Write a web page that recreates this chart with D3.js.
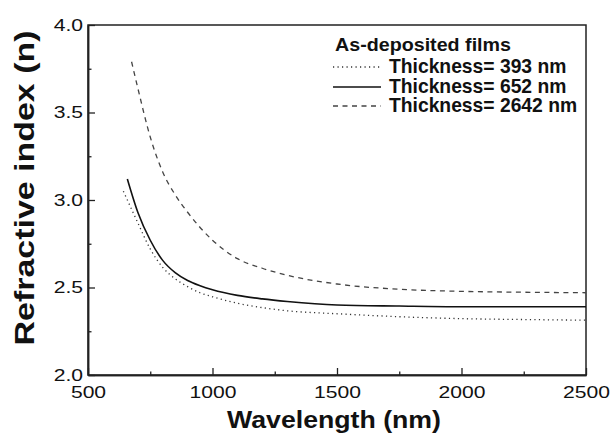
<!DOCTYPE html>
<html><head><meta charset="utf-8">
<script src="https://cdn.jsdelivr.net/npm/d3@7"></script>
<style>
body{margin:0;background:#fff;}
text{font-family:"Liberation Sans",Arial,sans-serif;fill:#111;}
</style></head>
<body><svg id="c" width="613" height="440"></svg>
<script>
// Data
const wl393 = [642, 700, 750, 800, 850, 900, 950, 1000, 1100, 1200, 1300, 1500, 1750, 2000, 2250, 2500];
const n393  = [3.05, 2.87, 2.72, 2.615, 2.55, 2.505, 2.47, 2.447, 2.41, 2.385, 2.367, 2.35, 2.333, 2.322, 2.317, 2.313];
const wl652 = [658, 700, 750, 800, 850, 900, 950, 1000, 1100, 1200, 1300, 1500, 1750, 2000, 2250, 2500];
const n652  = [3.12, 2.93, 2.77, 2.655, 2.585, 2.54, 2.51, 2.487, 2.455, 2.435, 2.42, 2.40, 2.394, 2.39, 2.39, 2.39];
const wl2642 = [675, 700, 750, 800, 850, 900, 1000, 1100, 1200, 1300, 1500, 1750, 2000, 2250, 2500];
const n2642  = [3.79, 3.64, 3.36, 3.16, 3.03, 2.93, 2.77, 2.665, 2.61, 2.57, 2.52, 2.49, 2.478, 2.473, 2.47];
const xTicks = [500, 1000, 1500, 2000, 2500];
const xMinor = [750, 1250, 1750, 2250];
const yTicks = [2.0, 2.5, 3.0, 3.5, 4.0];
const yMinor = [2.25, 2.75, 3.25, 3.75];
const legendTitle = "As-deposited films";
const legendLabels = ["Thickness= 393 nm", "Thickness= 652 nm", "Thickness= 2642 nm"];
const xTitle = "Wavelength (nm)";
const yTitle = "Refractive index (n)";

const svg = d3.select("#c");
const L = 88, R = 586, T = 25, B = 375;
const x = d3.scaleLinear().domain([500, 2500]).range([L, R]);
const y = d3.scaleLinear().domain([2, 4]).range([B, T]);
const axisColor = "#222";

// frame
svg.append("rect").attr("x", L).attr("y", T).attr("width", R - L).attr("height", B - T)
  .attr("fill", "none").attr("stroke", axisColor).attr("stroke-width", 1.5);

// axes
const gx = svg.append("g").attr("transform", `translate(0,${B})`)
  .call(d3.axisBottom(x).tickValues(xTicks).tickFormat(d3.format("d")).tickSizeInner(-7).tickSizeOuter(0).tickPadding(11));
const gxm = svg.append("g").attr("transform", `translate(0,${B})`)
  .call(d3.axisBottom(x).tickValues(xMinor).tickFormat("").tickSizeInner(-3.5).tickSizeOuter(0));
const gy = svg.append("g").attr("transform", `translate(${L},0)`)
  .call(d3.axisLeft(y).tickValues(yTicks).tickFormat(d3.format(".1f")).tickSizeInner(-7).tickSizeOuter(0).tickPadding(5));
const gym = svg.append("g").attr("transform", `translate(${L},0)`)
  .call(d3.axisLeft(y).tickValues(yMinor).tickFormat("").tickSizeInner(-3.5).tickSizeOuter(0));
[gx, gxm, gy, gym].forEach(g => {
  g.select(".domain").attr("stroke", axisColor).attr("stroke-width", 1.5);
  g.selectAll(".tick line").attr("stroke", axisColor).attr("stroke-width", 1.3);
});
gx.selectAll(".tick text").each(function(){
  const t = d3.select(this); const yy = +t.attr("y");
  t.attr("y", 0).attr("transform", `translate(0,${yy}) scale(1.28,1)`);
}).style("font-size", "16.5px").attr("fill", "#111");
gy.selectAll(".tick text").each(function(){
  const t = d3.select(this); const xx = +t.attr("x");
  t.attr("x", 0).attr("transform", `translate(${xx},0) scale(1.28,1)`);
}).style("font-size", "16.5px").attr("fill", "#111");

// curves
const line = d3.line().x(d => x(d[0])).y(d => y(d[1])).curve(d3.curveMonotoneX);
const series = [
  {wl: wl393, n: n393, dash: "1.2,3.3", w: 1.3, color: "#333"},
  {wl: wl652, n: n652, dash: null, w: 1.6, color: "#111"},
  {wl: wl2642, n: n2642, dash: "5,4.5", w: 1.3, color: "#444"}
];
series.forEach(s => {
  svg.append("path").datum(s.wl.map((w, i) => [w, s.n[i]]))
    .attr("d", line).attr("fill", "none").attr("stroke", s.color)
    .attr("stroke-width", s.w).attr("stroke-dasharray", s.dash);
});

// legend
svg.append("text").attr("x", 335).attr("y", 51).text(legendTitle)
  .style("font-size", "18px").style("font-weight", "bold")
  .attr("textLength", 176).attr("lengthAdjust", "spacingAndGlyphs");
const rowY = [73, 93, 112];
series.forEach((s, i) => {
  svg.append("line").attr("x1", 333).attr("x2", 381).attr("y1", rowY[i] - 6).attr("y2", rowY[i] - 6)
    .attr("stroke", s.color).attr("stroke-width", s.w).attr("stroke-dasharray", s.dash);
  svg.append("text").attr("x", 389).attr("y", rowY[i]).text(legendLabels[i])
    .style("font-size", "19.3px").style("font-weight", "bold");
});

// axis titles
svg.append("text").attr("x", 334).attr("y", 428).attr("text-anchor", "middle").text(xTitle)
  .style("font-size", "23px").style("font-weight", "bold")
  .attr("textLength", 214).attr("lengthAdjust", "spacingAndGlyphs");
svg.append("text").attr("transform", "translate(34,188) rotate(-90)").attr("text-anchor", "middle").text(yTitle)
  .style("font-size", "27px").style("font-weight", "bold")
  .attr("textLength", 315).attr("lengthAdjust", "spacingAndGlyphs");
</script></body></html>
